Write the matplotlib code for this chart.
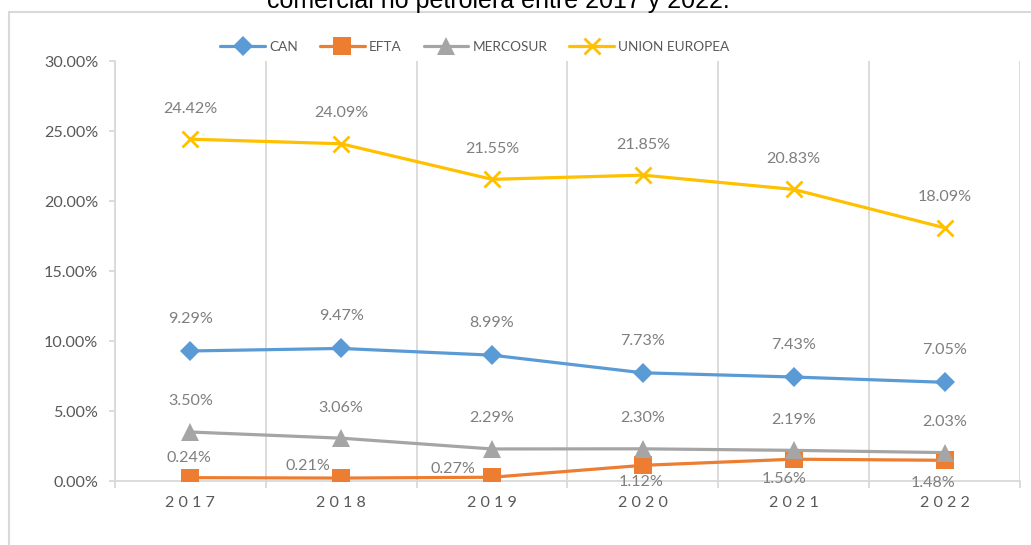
import matplotlib.pyplot as plt
from matplotlib.patches import Rectangle

# data (percent)
years = ['2017', '2018', '2019', '2020', '2021', '2022']
can = [9.29, 9.47, 8.99, 7.73, 7.43, 7.05]
efta = [0.24, 0.21, 0.27, 1.12, 1.56, 1.48]
mercosur = [3.50, 3.06, 2.29, 2.30, 2.19, 2.03]
union_europea = [24.42, 24.09, 21.55, 21.85, 20.83, 18.09]
y_ticks = [0, 5, 10, 15, 20, 25, 30]

plt.rcParams['font.family'] = ['Lato', 'DejaVu Sans']

fig = plt.figure(figsize=(10.31, 5.45), dpi=100)
ax = fig.add_axes([0.1115, 0.1174, 0.8778, 0.7706])

grid_c = '#d9d9d9'
label_c = '#7f7f7f'
tick_c = '#595959'
fs = 11.6

# outer frame of the chart area (partly cut by the image edge)
fig.patches.append(Rectangle((9 / 1031, -0.05), 1.1, 1 - 12 / 545 + 0.05,
                             transform=fig.transFigure, fill=False,
                             edgecolor=grid_c, linewidth=1.5))

# title, only the last line is visible in the reference
fig.text(0.483, 1 - 8 / 545, 'comercial no petrolera entre 2017 y 2022.',
         ha='center', va='baseline', fontsize=18,
         family=['Liberation Sans', 'DejaVu Sans'], color='#000000')

x = list(range(len(years)))

series = [
    ('CAN', can, '#5B9BD5', 'D', 10),
    ('EFTA', efta, '#ED7D31', 's', 12.5),
    ('MERCOSUR', mercosur, '#A5A5A5', '^', 12.5),
    ('UNION EUROPEA', union_europea, '#FFC000', 'x', 11),
]
for name, vals, col, mk, ms in series:
    kw = dict(markeredgewidth=2) if mk == 'x' else dict(markeredgewidth=0)
    ax.plot(x, vals, color=col, linewidth=2.3, marker=mk, markersize=ms,
            label=name, solid_capstyle='round', zorder=3, **kw)

# data labels
for i, v in enumerate(can):
    ax.annotate(f'{v:.2f}%', (i, v), xytext=(0, 23), textcoords='offset points',
                ha='center', va='center', fontsize=fs, color=label_c)
for i, v in enumerate(mercosur):
    ax.annotate(f'{v:.2f}%', (i, v), xytext=(0, 22), textcoords='offset points',
                ha='center', va='center', fontsize=fs, color=label_c)
for i, v in enumerate(union_europea):
    ax.annotate(f'{v:.2f}%', (i, v), xytext=(0, 22), textcoords='offset points',
                ha='center', va='center', fontsize=fs, color=label_c)
efta_off = [(-1, 14), (-24, 9), (-28, 6), (-1, -12), (-7, -14), (-8, -16)]
for i, v in enumerate(efta):
    ax.annotate(f'{v:.2f}%', (i, v), xytext=efta_off[i], textcoords='offset points',
                ha='center', va='center', fontsize=fs, color=label_c)

ax.set_xlim(-0.5, len(years) - 0.5)
ax.set_ylim(0, 30)
ax.set_yticks(y_ticks)
ax.set_yticklabels([f'{t:.2f}%' for t in y_ticks])

# category separators as vertical grid lines
ax.set_xticks([i + 0.5 for i in range(-1, len(years))], minor=True)
ax.set_xticks(x)
ax.set_xticklabels([' '.join(y) for y in years])
ax.grid(True, axis='x', which='minor', color=grid_c, linewidth=1.3)
ax.tick_params(axis='x', which='major', length=0, pad=11, labelsize=fs,
               labelcolor=tick_c)
ax.tick_params(axis='x', which='minor', length=5, color=grid_c, width=1.3)
ax.tick_params(axis='y', length=4, color=grid_c, width=1.3, pad=8,
               labelsize=fs, labelcolor=tick_c)

for s in ['top', 'right']:
    ax.spines[s].set_visible(False)
ax.spines['left'].set_color(grid_c)
ax.spines['bottom'].set_color(grid_c)
ax.spines['left'].set_linewidth(1.3)
ax.spines['bottom'].set_linewidth(1.3)
ax.set_axisbelow(True)

leg = fig.legend(loc='center', bbox_to_anchor=(475 / 1031, 1 - 47 / 545), ncol=4,
                 frameon=False, fontsize=9.8, handlelength=3.3,
                 columnspacing=1.6, handletextpad=0.3)
for t in leg.get_texts():
    t.set_color(tick_c)

fig.savefig('out.png', dpi=100)
